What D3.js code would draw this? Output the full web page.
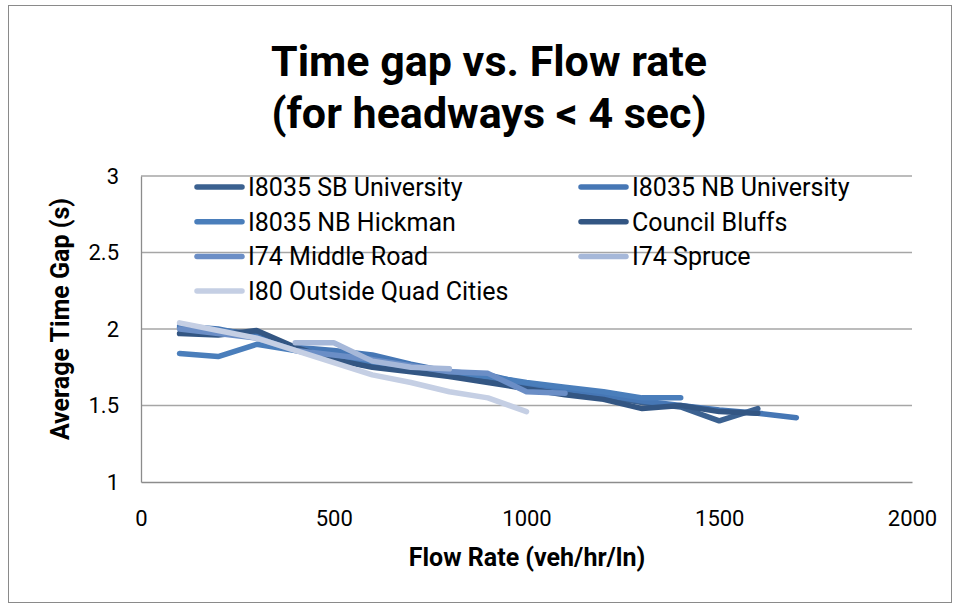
<!DOCTYPE html>
<meta charset="utf-8">
<style>
body { margin: 0; background: #fff; }
text { font-family: Roboto, "Open Sans", sans-serif; fill: #000; }
.grid line { stroke: #a6a6a6; stroke-width: 1.3; }
.axis path, .axis line { stroke: #8c8c8c; }
.axis text { font-size: 22px; }
</style>
<svg id="chart" width="956" height="605"></svg>
<script src="https://d3js.org/d3.v7.min.js"></script>
<script>

// series names
var names = ["I8035 SB University", "I8035 NB University", "I8035 NB Hickman",
  "Council Bluffs", "I74 Middle Road", "I74 Spruce", "I80 Outside Quad Cities"];

// flow rates (veh/hr/ln) for each series
var flowSB = [100, 200, 300, 400, 500, 600, 700, 800, 900, 1000, 1100, 1200, 1300, 1400, 1500, 1600];
var flowNBU = [100, 200, 300, 400, 500, 600, 700, 800, 900, 1000, 1100, 1200, 1300, 1400, 1500, 1600, 1700];
var flowHick = [100, 200, 300, 400, 500, 600, 700, 800, 900, 1000, 1100, 1200, 1300, 1400];
var flowCB = [100, 200, 300, 400, 500, 600, 700, 800, 900, 1000, 1100, 1200, 1300, 1400, 1500, 1600];
var flowMid = [100, 200, 300, 400, 500, 600, 700, 800, 900, 1000, 1100];
var flowSpr = [400, 500, 600, 700, 800];
var flowI80 = [100, 200, 300, 400, 500, 600, 700, 800, 900, 1000];

// average time gap (s)
var gapSB = [2.01, 1.99, 1.97, 1.87, 1.84, 1.80, 1.74, 1.70, 1.68, 1.63, 1.60, 1.56, 1.52, 1.49, 1.40, 1.48];
var gapNBU = [2.02, 2.00, 1.95, 1.88, 1.86, 1.83, 1.77, 1.72, 1.70, 1.64, 1.61, 1.57, 1.53, 1.50, 1.47, 1.45, 1.42];
var gapHick = [1.84, 1.82, 1.90, 1.86, 1.80, 1.77, 1.75, 1.71, 1.69, 1.65, 1.62, 1.59, 1.55, 1.55];
var gapCB = [1.97, 1.96, 1.99, 1.88, 1.80, 1.75, 1.72, 1.69, 1.65, 1.61, 1.57, 1.54, 1.48, 1.50, 1.46, 1.45];
var gapMid = [2.00, 1.97, 1.94, 1.86, 1.83, 1.80, 1.76, 1.72, 1.71, 1.59, 1.58];
var gapSpr = [1.91, 1.91, 1.79, 1.75, 1.74];
var gapI80 = [2.04, 1.99, 1.94, 1.86, 1.78, 1.70, 1.65, 1.59, 1.55, 1.46];

var colors = ["#3b6190", "#4677b5", "#4a7ebb", "#335683", "#6b8ec6", "#a6b8d9", "#c5cfe4"];

var xTicks = [0, 500, 1000, 1500, 2000];
var yTicks = [1, 1.5, 2, 2.5, 3];

var flows = [flowSB, flowNBU, flowHick, flowCB, flowMid, flowSpr, flowI80];
var gaps = [gapSB, gapNBU, gapHick, gapCB, gapMid, gapSpr, gapI80];

var series = names.map(function(n, i) {
  return {name: n, color: colors[i], values: flows[i].map(function(f, j) { return {x: f, y: gaps[i][j]}; })};
});

var svg = d3.select("#chart");

svg.append("rect")
    .attr("x", 8.5).attr("y", 5.5).attr("width", 943).attr("height", 597)
    .attr("fill", "#fff").attr("stroke", "#8a8a8a");

var margin = {left: 141, right: 44, top: 176, bottom: 123},
    width = 956 - margin.left - margin.right,
    height = 605 - margin.top - margin.bottom;

var x = d3.scaleLinear().domain([0, 2000]).range([0, width]);
var y = d3.scaleLinear().domain([1, 3]).range([height, 0]);

var g = svg.append("g")
    .attr("transform", "translate(" + margin.left + "," + margin.top + ")");

g.append("g")
    .attr("class", "grid")
  .selectAll("line")
    .data(yTicks.slice(1))
  .enter().append("line")
    .attr("x1", 0).attr("x2", width)
    .attr("y1", function(d) { return y(d); })
    .attr("y2", function(d) { return y(d); });

g.append("g")
    .attr("class", "axis")
    .attr("transform", "translate(0," + height + ")")
    .call(d3.axisBottom(x).tickValues(xTicks).tickSize(0).tickPadding(28).tickFormat(d3.format("d")));

g.append("g")
    .attr("class", "axis")
    .call(d3.axisLeft(y).tickValues(yTicks).tickSize(0).tickPadding(22).tickFormat(function(d) { return d; }));

g.selectAll(".axis .domain").attr("stroke-width", 1.3);

var line = d3.line()
    .x(function(d) { return x(d.x); })
    .y(function(d) { return y(d.y); });

g.selectAll(".series")
    .data(series)
  .enter().append("path")
    .attr("class", "series")
    .attr("fill", "none")
    .attr("stroke", function(d) { return d.color; })
    .attr("stroke-width", 5.5)
    .attr("stroke-linecap", "round")
    .attr("stroke-linejoin", "round")
    .attr("d", function(d) { return line(d.values); });

// legend, two columns, drawn over the plot without a box
var legend = svg.append("g").selectAll("g")
    .data(series)
  .enter().append("g")
    .attr("transform", function(d, i) {
      return "translate(" + (i % 2 ? 581 : 197) + "," + (187 + Math.floor(i / 2) * 34.7) + ")";
    });

legend.append("line")
    .attr("x1", 0).attr("x2", 45)
    .attr("stroke", function(d) { return d.color; })
    .attr("stroke-width", 5.5)
    .attr("stroke-linecap", "round");

legend.append("text")
    .attr("x", 51).attr("dy", "0.36em")
    .style("font-size", "25px")
    .text(function(d) { return d.name; });

// titles
svg.append("text")
    .attr("x", 489).attr("y", 76)
    .attr("text-anchor", "middle")
    .style("font-size", "43px").style("font-weight", "bold")
    .text("Time gap vs. Flow rate");

svg.append("text")
    .attr("x", 489).attr("y", 128)
    .attr("text-anchor", "middle")
    .style("font-size", "43px").style("font-weight", "bold")
    .text("(for headways < 4 sec)");

svg.append("text")
    .attr("x", 527).attr("y", 566)
    .attr("text-anchor", "middle")
    .style("font-size", "25px").style("font-weight", "bold")
    .text("Flow Rate (veh/hr/ln)");

svg.append("text")
    .attr("transform", "translate(69,319) rotate(-90)")
    .attr("text-anchor", "middle")
    .style("font-size", "25px").style("font-weight", "bold")
    .text("Average Time Gap (s)");

</script>
